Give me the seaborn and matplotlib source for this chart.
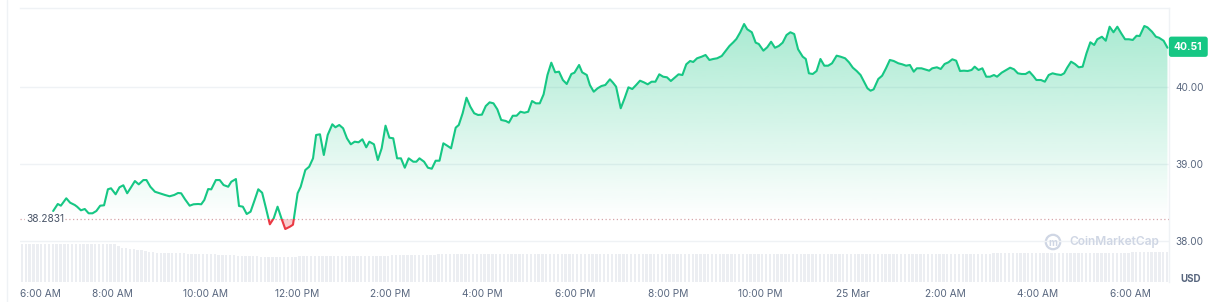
import numpy as np
import pandas as pd
import matplotlib
matplotlib.use("Agg")
import matplotlib.pyplot as plt
import seaborn as sns
from matplotlib.patches import Rectangle, Circle
from matplotlib.path import Path
from matplotlib.lines import Line2D
from matplotlib.colors import to_rgb

# ---------------- data (minutes after 6:00 AM, 24 Mar) ----------------
minutes = [
    43, 49, 53, 60, 65, 71, 74, 79, 84, 89, 94, 99, 104, 109, 114, 118, 124, 129, 134, 139,
    144, 149, 154, 160, 164, 169, 175, 181, 188, 194, 200, 205, 209, 214, 220, 225, 231, 235,
    239, 244, 248, 254, 259, 264, 270, 274, 280,
    284, 289, 294, 299, 304, 309, 314, 319, 324, 329, 334, 339, 344, 350, 354, 360, 364, 367,
    370, 375, 380, 384, 389, 394, 399, 405, 409, 414, 419, 424, 429, 434, 439, 444, 449, 453,
    459, 464, 469, 474, 479, 484, 489, 494, 499, 504, 510, 514,
    518, 524, 529, 534, 539, 544, 549, 554, 559, 565, 569, 574, 579, 584, 589, 594, 599, 604,
    609, 614, 619, 624, 630, 634, 639, 644, 649, 654, 659, 664, 669, 674, 679, 684, 689, 694,
    699, 704, 709, 715, 719, 725, 729, 735, 739, 744, 749, 754, 759,
    765, 769, 773, 779, 784, 789, 794, 799, 804, 809, 814, 819, 824, 829, 834, 839, 844, 849,
    854, 859, 864, 869, 873, 878, 884, 889, 894, 899, 904, 910, 915, 920, 925, 929, 934, 939,
    943, 949, 954, 958, 964, 969, 974, 979, 984, 989, 994, 999, 1004, 1009,
    1015, 1019, 1023, 1028, 1033, 1038, 1043, 1048, 1053, 1059, 1064, 1070, 1075, 1080, 1085,
    1090, 1095, 1099, 1103, 1107, 1113, 1118, 1123, 1128, 1133, 1139, 1144, 1149, 1154, 1159,
    1163, 1169, 1173, 1179, 1183, 1189, 1194, 1199, 1204, 1209, 1214, 1219, 1224, 1229, 1234,
    1238, 1243, 1248, 1253,
    1258, 1263, 1267, 1273, 1279, 1284, 1289, 1294, 1299, 1304, 1309, 1314, 1318, 1324, 1329,
    1334, 1339, 1344, 1350, 1354, 1358, 1363, 1368, 1373, 1378, 1383, 1388, 1393, 1397, 1403,
    1408, 1413, 1418, 1423, 1428, 1433, 1438, 1443, 1448, 1452, 1458, 1462, 1468, 1473, 1477,
    1483, 1488,
]
prices = [
    38.390, 38.481, 38.459, 38.555, 38.498, 38.468, 38.446, 38.399, 38.416, 38.360, 38.360,
    38.390, 38.459, 38.464, 38.672, 38.685, 38.607, 38.698, 38.724, 38.620, 38.698, 38.779,
    38.736, 38.792, 38.792, 38.705, 38.640, 38.620, 38.598, 38.581, 38.598, 38.624, 38.620,
    38.542, 38.459, 38.477, 38.481, 38.477, 38.533, 38.675, 38.671, 38.792, 38.792, 38.727,
    38.705, 38.770, 38.805,
    38.455, 38.446, 38.351, 38.381, 38.524, 38.672, 38.627, 38.425, 38.217, 38.295, 38.446,
    38.295, 38.156, 38.186, 38.212, 38.620, 38.705, 38.814, 38.922, 38.965, 39.074, 39.377,
    39.386, 39.117, 39.377, 39.516, 39.477, 39.507, 39.464, 39.334, 39.256, 39.290, 39.282,
    39.321, 39.217, 39.290, 39.256, 39.052, 39.204, 39.498, 39.342, 39.334, 39.074, 39.074,
    38.952, 39.074, 39.030, 39.030,
    39.074, 39.030, 38.952, 38.939, 39.043, 39.043, 39.269, 39.238, 39.204, 39.472, 39.507,
    39.659, 39.861, 39.744, 39.659, 39.637, 39.641, 39.753, 39.801, 39.788, 39.710, 39.572,
    39.559, 39.537, 39.627, 39.627, 39.679, 39.666, 39.679, 39.818, 39.788, 39.788, 39.905,
    40.156, 40.316, 40.191, 40.199, 40.091, 40.039, 40.169, 40.186, 40.286, 40.191, 40.156,
    40.026, 39.939, 39.983, 40.013, 40.026,
    40.100, 40.056, 40.004, 39.724, 39.853, 39.996, 39.974, 40.026, 40.082, 40.061, 40.035,
    40.069, 40.069, 40.165, 40.134, 40.126, 40.078, 40.121, 40.165, 40.156, 40.295, 40.338,
    40.325, 40.373, 40.394, 40.416, 40.351, 40.364, 40.373, 40.403, 40.468, 40.533, 40.581,
    40.624, 40.711, 40.818, 40.750, 40.711, 40.576, 40.559, 40.472, 40.516, 40.588, 40.510,
    40.533, 40.576, 40.675, 40.711, 40.688, 40.490,
    40.394, 40.364, 40.178, 40.169, 40.208, 40.364, 40.277, 40.277, 40.308, 40.407, 40.394,
    40.373, 40.321, 40.251, 40.208, 40.156, 40.061, 39.983, 39.952, 39.970, 40.104, 40.147,
    40.243, 40.351, 40.338, 40.308, 40.295, 40.277, 40.286, 40.199, 40.243, 40.243, 40.230,
    40.212, 40.243, 40.256, 40.234, 40.299, 40.321, 40.360, 40.342, 40.208, 40.212, 40.208,
    40.221, 40.264, 40.221, 40.243, 40.134,
    40.134, 40.156, 40.134, 40.186, 40.221, 40.251, 40.230, 40.178, 40.169, 40.169, 40.199,
    40.143, 40.091, 40.091, 40.069, 40.156, 40.178, 40.165, 40.156, 40.178, 40.251, 40.329,
    40.299, 40.256, 40.264, 40.438, 40.581, 40.546, 40.620, 40.653, 40.601, 40.783, 40.711,
    40.783, 40.698, 40.620, 40.620, 40.611, 40.666, 40.662, 40.792, 40.775, 40.718, 40.653,
    40.640, 40.601, 40.510,
]
ref_price = 38.2831
last_price = 40.51

# volume (arbitrary units), one bar per 5 minutes from 6:00 AM
volume_interval = 5
volume = [
    3.85, 3.85, 3.85, 3.85, 3.85, 3.85, 3.85, 3.85, 3.85, 3.85, 3.85, 3.85,
    3.85, 3.85, 3.85, 3.85, 3.85, 3.85, 3.85, 3.85, 3.85, 3.85, 3.85, 3.85,
    3.85, 3.60, 3.40, 3.40, 3.35, 3.30, 3.25, 3.20, 3.15, 3.05, 3.00, 2.95,
    2.95, 2.95, 2.95, 2.90, 2.90, 2.90, 2.90, 2.85, 2.85, 2.85, 2.80, 2.80,
    2.80, 2.80, 2.80, 2.75, 2.75, 2.70, 2.70, 2.70, 2.65, 2.65, 2.60, 2.60,
    2.60, 2.60, 2.55, 2.55, 2.55, 2.55, 2.55, 2.55, 2.55, 2.55, 2.55, 2.55,
    2.60, 2.60, 2.60, 2.60, 2.60, 2.60, 2.60, 2.60, 2.60, 2.60, 2.60, 2.60,
    2.65, 2.65, 2.65, 2.65, 2.65, 2.65, 2.65, 2.65, 2.65, 2.65, 2.65, 2.65,
    2.70, 2.70, 2.70, 2.70, 2.70, 2.70, 2.70, 2.70, 2.70, 2.70, 2.70, 2.70,
    2.80, 2.80, 2.80, 2.80, 2.80, 2.80, 2.80, 2.80, 2.80, 2.80, 2.80, 2.80,
    2.80, 2.80, 2.80, 2.80, 2.80, 2.80, 2.80, 2.80, 2.80, 2.80, 2.80, 2.80,
    2.80, 2.80, 2.80, 2.80, 2.80, 2.80, 2.80, 2.80, 2.80, 2.80, 2.80, 2.80,
    2.80, 2.80, 2.80, 2.80, 2.80, 2.80, 2.80, 2.80, 2.80, 2.80, 2.80, 2.80,
    2.80, 2.80, 2.80, 2.80, 2.80, 2.80, 2.80, 2.80, 2.80, 2.80, 2.80, 2.80,
    2.80, 2.80, 2.80, 2.80, 2.80, 2.80, 2.80, 2.80, 2.80, 2.80, 2.80, 2.80,
    2.80, 2.80, 2.80, 2.80, 2.80, 2.80, 2.80, 2.80, 2.80, 2.80, 2.80, 2.80,
    2.80, 2.80, 2.80, 2.80, 2.80, 2.80, 2.80, 2.80, 2.80, 2.80, 2.80, 2.80,
    2.85, 2.85, 2.85, 2.85, 2.85, 2.85, 2.85, 2.85, 2.85, 2.85, 2.85, 2.85,
    2.85, 2.85, 2.85, 2.85, 2.85, 2.85, 2.85, 2.85, 2.85, 2.85, 2.85, 2.85,
    2.85, 2.85, 2.85, 2.85, 2.85, 2.85, 2.85, 2.85, 2.85, 2.85, 2.85, 2.85,
    2.85, 2.85, 2.85, 2.85, 2.85, 2.85, 2.85, 2.85, 2.85, 2.85, 2.85, 2.85,
    2.90, 2.90, 2.90, 2.90, 2.90, 2.90, 2.90, 2.90, 2.90, 2.90, 2.90, 2.90,
    2.90, 2.90, 2.90, 2.90, 2.90, 2.90, 2.90, 2.90, 2.90, 2.90, 2.90, 2.90,
    2.95, 2.95, 2.95, 2.95, 2.95, 2.95, 2.95, 2.95, 2.95, 2.95, 2.95, 2.95,
    3.00, 3.00, 3.00, 3.00, 3.00, 3.00, 3.00, 3.00, 3.00, 3.00,
]

tick_minutes = [0, 120, 240, 360, 480, 600, 720, 840, 960, 1080, 1200, 1320, 1440]
tick_labels = ["6:00 AM", "8:00 AM", "10:00 AM", "12:00 PM", "2:00 PM", "4:00 PM",
               "6:00 PM", "8:00 PM", "10:00 PM", "25 Mar", "2:00 AM", "4:00 AM", "6:00 AM"]
price_ticks = [38.0, 39.0, 40.0]

# ---------------- style ----------------
GREEN = "#16c784"
RED = "#ea3943"
GRAY = "#58667e"
GRID = "#eff2f5"
XMAX = 1490
YMIN, YMAX = 37.468, 41.026

sns.set_theme(style="white")
plt.rcParams["font.family"] = ["Inter", "DejaVu Sans"]

W, H = 1216, 302
fig = plt.figure(figsize=(W / 100, H / 100), dpi=100)
fig.patch.set_facecolor("white")
ax = fig.add_axes([20 / W, 20 / H, 1149 / W, 274 / H])
ax2 = ax.twinx()

# volume bars (behind)
vol_x = [volume_interval * i + volume_interval / 2 for i in range(len(volume))]
ax2.bar(vol_x, volume, width=volume_interval * 0.62, color="#eceef2", linewidth=0)
ax2.set_ylim(0, 27.4)
ax2.set_yticks([])
for s in ax2.spines.values():
    s.set_visible(False)
ax.set_zorder(ax2.get_zorder() + 1)
ax.patch.set_visible(False)

px = np.array(prices)
mx = np.array(minutes)

# gradient fill above the reference price
n = 256
rgba = np.zeros((n, 1, 4))
rgba[..., :3] = to_rgb(GREEN)
rgba[:, 0, 3] = np.linspace(0.0, 0.145 * (YMAX - ref_price), n)
im = ax.imshow(rgba, extent=[0, XMAX, ref_price, YMAX], origin="lower",
               aspect="auto", interpolation="bilinear", zorder=1)
poly = ax.fill_between(mx, px, ref_price, facecolor="none", edgecolor="none")
clip = Path.make_compound_path(*poly.get_paths())
im.set_clip_path(clip, transform=ax.transData)

# red fill below the reference price
ax.fill_between(mx, px, ref_price, where=px < ref_price, interpolate=True,
                color=RED, alpha=0.25, linewidth=0, zorder=1)

# reference line
ax.axhline(ref_price, color="#d6a4a9", lw=0.9, ls=(0, (1, 2)), zorder=2)

# price line (green above reference, red below)
df = pd.DataFrame({"minute": minutes, "price": prices})
sns.lineplot(data=df, x="minute", y="price", ax=ax, color=GREEN, lw=1.5, zorder=3)
ax.lines[-1].set_clip_path(Rectangle((0, ref_price), XMAX, 10, transform=ax.transData))
sns.lineplot(data=df, x="minute", y="price", ax=ax, color=RED, lw=1.5, zorder=3)
ax.lines[-1].set_clip_path(Rectangle((0, ref_price - 10), XMAX, 10, transform=ax.transData))

# axes
ax.set_xlim(0, XMAX)
ax.set_ylim(YMIN, YMAX)
ax.set_xlabel("")
ax.set_ylabel("")
ax.set_yticks(price_ticks)
ax.set_yticklabels([f"{v:.2f}" for v in price_ticks])
ax.yaxis.tick_right()
ax.set_xticks(tick_minutes)
ax.set_xticklabels(tick_labels)
ax.get_xticklabels()[0].set_ha("left")
ax.tick_params(axis="y", length=0, pad=4.3, labelsize=7.2, labelcolor=GRAY)
ax.tick_params(axis="x", length=0, pad=5, labelsize=7.3, labelcolor=GRAY)
ax.grid(axis="y", color=GRID, lw=1)
ax.grid(axis="x", visible=False)
for side in ["left", "bottom"]:
    ax.spines[side].set_visible(False)
for side in ["top", "right"]:
    ax.spines[side].set_color(GRID)
    ax.spines[side].set_linewidth(1)

# reference price label
ax.annotate(f"{ref_price:.4f}", xy=(0, ref_price), xycoords=("axes fraction", "data"),
            xytext=(6, 0), textcoords="offset pixels", ha="left", va="center",
            fontsize=7.3, color="#4a5568", zorder=5,
            bbox=dict(boxstyle="square,pad=0.1", fc="white", ec="none"))

# last price tag
ax.annotate(f"{last_price:.2f}", xy=(1, last_price), xycoords=("axes fraction", "data"),
            xytext=(5, 1), textcoords="offset pixels", ha="left", va="center",
            fontsize=7.4, color="white", weight="bold", annotation_clip=False,
            bbox=dict(boxstyle="round,pad=0.5,rounding_size=0.25", fc=GREEN, ec="none"))

# currency label
fig.text(1180 / W, 1 - 279.5 / H, "USD", fontsize=7, weight="bold", color=GRAY,
         ha="left", va="center")

# watermark
WM = "#cfd6e4"
fig.add_artist(Circle((10.53, (H - 242) / 100), 0.072, transform=fig.dpi_scale_trans,
                      fill=False, ec=WM, lw=1.6))
fig.text(1053 / W, 1 - 242.5 / H, "m", fontsize=7, color=WM, weight="bold",
         ha="center", va="center")
fig.text(1069 / W, 1 - 242 / H, "CoinMarketCap", fontsize=8.6, color=WM,
         weight="semibold", ha="left", va="center")

# outer page border
fig.add_artist(Line2D([7 / W, 7 / W], [0, 1], transform=fig.transFigure, color=GRID, lw=1))

fig.savefig("out.png", dpi=100, facecolor="white")
